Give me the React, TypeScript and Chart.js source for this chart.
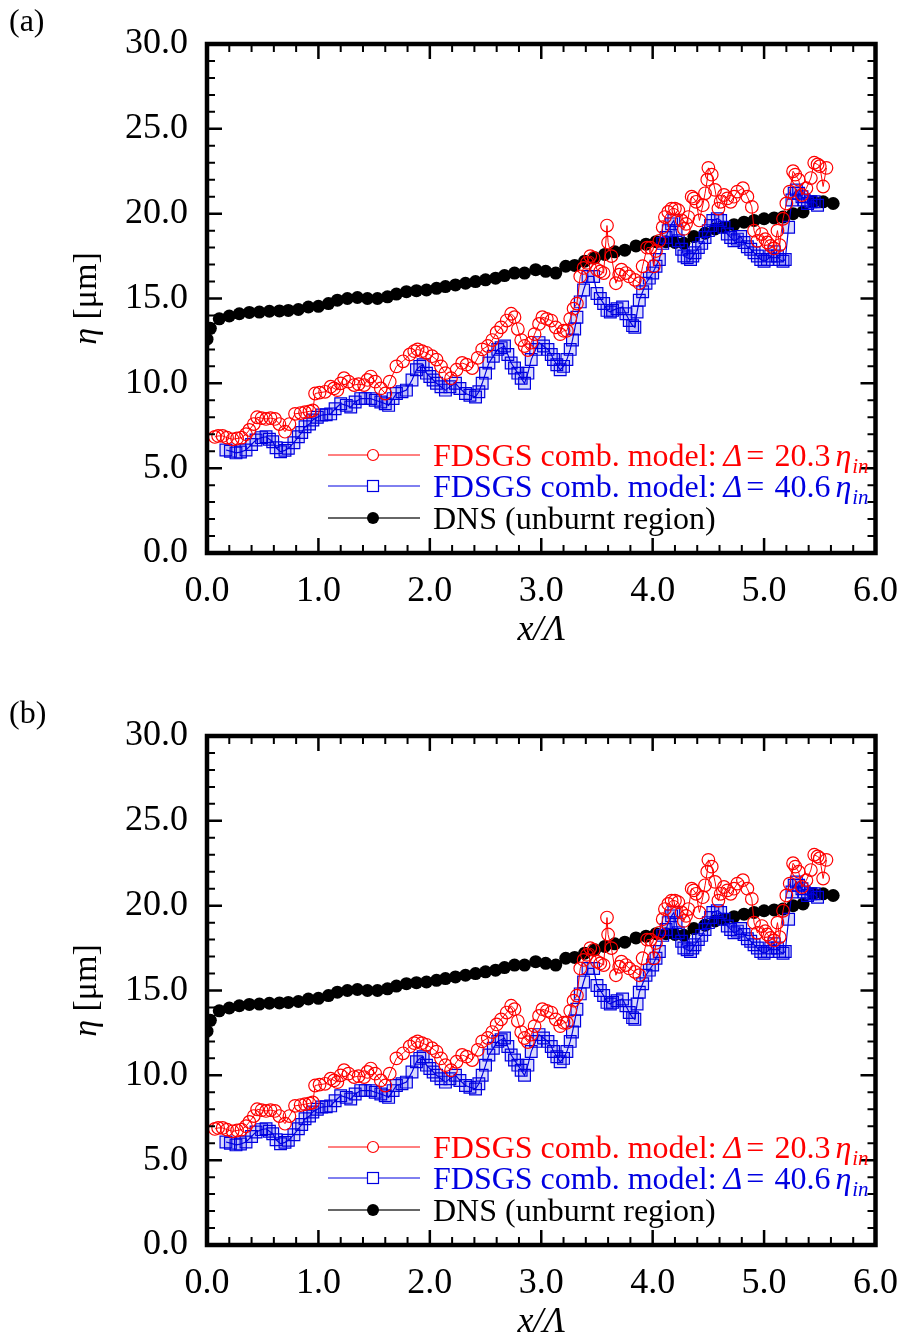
import React, { useEffect, useRef } from 'react';
import { Chart, registerables } from 'chart.js';
Chart.register(...registerables);

// ---------- data ----------
const xTicks = [0, 1, 2, 3, 4, 5, 6];
const yTicks = [0, 5, 10, 15, 20, 25, 30];

const redX = [0.07, 0.10, 0.14, 0.18, 0.23, 0.27, 0.31, 0.35, 0.38, 0.42, 0.45, 0.49, 0.53, 0.57, 0.61, 0.65, 0.70, 0.74, 0.79, 0.84, 0.88, 0.92, 0.95, 0.97, 1.01, 1.06, 1.11, 1.14, 1.17, 1.20, 1.23, 1.27, 1.32, 1.36, 1.41, 1.44, 1.47, 1.51, 1.56, 1.60, 1.64, 1.70, 1.76, 1.82, 1.86, 1.89, 1.93, 1.97, 2.02, 2.06, 2.10, 2.14, 2.19, 2.24, 2.29, 2.33, 2.38, 2.43, 2.47, 2.52, 2.56, 2.60, 2.64, 2.69, 2.73, 2.76, 2.79, 2.82, 2.85, 2.88, 2.91, 2.94, 2.98, 3.01, 3.05, 3.09, 3.13, 3.17, 3.20, 3.23, 3.26, 3.29, 3.32, 3.35, 3.38, 3.41, 3.44, 3.47, 3.50, 3.53, 3.56, 3.59, 3.60, 3.63, 3.67, 3.70, 3.72, 3.76, 3.79, 3.84, 3.88, 3.91, 3.95, 3.98, 4.01, 4.03, 4.06, 4.09, 4.11, 4.14, 4.17, 4.20, 4.23, 4.26, 4.28, 4.30, 4.32, 4.35, 4.37, 4.39, 4.42, 4.45, 4.47, 4.49, 4.50, 4.53, 4.56, 4.59, 4.61, 4.64, 4.67, 4.70, 4.73, 4.76, 4.81, 4.85, 4.89, 4.91, 4.94, 4.98, 5.01, 5.03, 5.06, 5.09, 5.12, 5.14, 5.17, 5.20, 5.23, 5.26, 5.28, 5.31, 5.34, 5.38, 5.42, 5.45, 5.48, 5.50, 5.53, 5.56];
const redY = [6.84, 6.9, 6.9, 6.8, 6.7, 6.75, 6.8, 7.0, 7.25, 7.6, 8.0, 7.95, 7.9, 7.95, 7.9, 7.6, 7.15, 7.6, 8.2, 8.25, 8.3, 8.35, 8.4, 9.4, 9.45, 9.5, 9.8, 9.7, 9.6, 10.0, 10.3, 10.1, 9.9, 9.95, 9.9, 10.2, 10.4, 10.1, 9.7, 9.4, 10.1, 11.0, 11.3, 11.7, 11.9, 12.0, 11.9, 11.8, 11.6, 11.4, 11.0, 10.6, 10.3, 10.8, 11.2, 11.1, 10.9, 11.5, 12.0, 12.2, 12.55, 13.0, 13.3, 13.7, 14.1, 13.9, 13.2, 12.55, 12.2, 11.96, 12.4, 12.9, 13.5, 13.9, 13.8, 13.7, 13.3, 12.9, 13.1, 13.1, 13.8, 14.4, 14.7, 16.3, 16.8, 17.1, 17.5, 17.4, 16.7, 16.6, 16.5, 19.3, 18.3, 17.5, 15.9, 16.4, 16.7, 16.5, 16.3, 16.1, 15.9, 16.9, 18.0, 18.0, 16.9, 17.8, 18.4, 19.2, 19.8, 20.1, 20.3, 20.3, 20.2, 19.6, 19.1, 19.4, 19.8, 21.0, 20.9, 20.7, 19.6, 20.5, 21.2, 22.0, 22.7, 22.3, 21.4, 20.3, 20.7, 21.1, 20.9, 20.7, 21.0, 21.3, 21.5, 21.0, 20.4, 19.0, 18.4, 18.8, 18.5, 18.3, 18.1, 17.95, 19.0, 18.15, 19.7, 20.6, 21.3, 22.5, 22.3, 22.0, 21.1, 21.5, 22.1, 23.0, 22.9, 22.8, 21.6, 22.7];

const blueX = [0.17, 0.21, 0.26, 0.30, 0.35, 0.40, 0.44, 0.49, 0.53, 0.56, 0.59, 0.62, 0.66, 0.70, 0.73, 0.78, 0.82, 0.85, 0.88, 0.92, 0.95, 0.99, 1.03, 1.07, 1.11, 1.15, 1.20, 1.25, 1.29, 1.33, 1.38, 1.42, 1.47, 1.51, 1.56, 1.60, 1.63, 1.67, 1.70, 1.75, 1.79, 1.84, 1.88, 1.91, 1.94, 1.97, 2.00, 2.03, 2.06, 2.10, 2.14, 2.18, 2.23, 2.27, 2.32, 2.36, 2.41, 2.44, 2.47, 2.50, 2.53, 2.57, 2.61, 2.64, 2.67, 2.70, 2.73, 2.76, 2.79, 2.82, 2.85, 2.88, 2.91, 2.95, 2.98, 3.02, 3.06, 3.09, 3.11, 3.14, 3.17, 3.20, 3.23, 3.26, 3.28, 3.30, 3.32, 3.35, 3.38, 3.42, 3.47, 3.50, 3.53, 3.56, 3.59, 3.62, 3.64, 3.68, 3.73, 3.76, 3.79, 3.82, 3.84, 3.86, 3.88, 3.91, 3.94, 3.97, 4.00, 4.03, 4.06, 4.09, 4.12, 4.14, 4.17, 4.19, 4.21, 4.23, 4.26, 4.28, 4.31, 4.34, 4.36, 4.38, 4.41, 4.44, 4.47, 4.50, 4.52, 4.54, 4.58, 4.61, 4.64, 4.67, 4.70, 4.73, 4.76, 4.79, 4.82, 4.85, 4.88, 4.91, 4.94, 4.97, 5.00, 5.03, 5.06, 5.09, 5.12, 5.14, 5.17, 5.19, 5.22, 5.25, 5.27, 5.29, 5.31, 5.34, 5.36, 5.39, 5.42, 5.45, 5.48];
const blueY = [6.07, 6.0, 5.9, 5.95, 6.07, 6.4, 6.66, 6.8, 6.85, 6.7, 6.56, 6.2, 5.97, 6.05, 6.17, 6.5, 6.85, 7.1, 7.44, 7.6, 7.84, 8.0, 8.13, 8.15, 8.2, 8.5, 8.8, 8.7, 8.6, 8.9, 9.1, 9.1, 9.1, 9.0, 8.9, 8.8, 8.7, 9.1, 9.4, 9.5, 9.6, 10.2, 10.8, 11.0, 11.1, 10.6, 10.4, 10.2, 10.0, 9.8, 9.6, 9.8, 10.0, 9.7, 9.4, 9.3, 9.2, 9.5, 10.0, 10.6, 11.2, 11.6, 12.0, 12.1, 12.2, 11.7, 11.2, 10.9, 10.6, 10.3, 10.0, 10.6, 11.4, 12.0, 12.4, 12.2, 12.0, 11.7, 11.4, 11.1, 10.8, 11.0, 11.4, 12.0, 12.55, 13.2, 13.9, 14.8, 15.5, 16.3, 16.3, 15.3, 15.0, 14.7, 14.3, 14.2, 14.3, 14.4, 14.5, 14.1, 13.7, 13.4, 13.3, 14.2, 14.9, 15.4, 15.9, 16.2, 16.5, 16.9, 17.3, 18.25, 18.6, 19.0, 19.4, 19.6, 19.0, 18.4, 17.9, 17.5, 17.4, 17.3, 17.5, 17.7, 18.0, 18.25, 18.6, 19.0, 19.3, 19.6, 19.7, 19.6, 19.2, 18.8, 18.6, 18.4, 18.5, 18.65, 18.3, 18.05, 17.9, 17.7, 17.5, 17.3, 17.2, 17.3, 17.5, 17.75, 17.5, 17.3, 17.2, 17.3, 19.2, 20.8, 21.2, 21.4, 21.2, 21.0, 20.8, 20.6, 20.7, 20.7, 20.5];

const dnsX = [0.00, 0.03, 0.11, 0.20, 0.29, 0.38, 0.47, 0.56, 0.65, 0.73, 0.82, 0.91, 1.00, 1.09, 1.17, 1.26, 1.35, 1.44, 1.53, 1.62, 1.70, 1.79, 1.88, 1.97, 2.06, 2.14, 2.23, 2.32, 2.41, 2.50, 2.59, 2.67, 2.76, 2.85, 2.95, 3.04, 3.13, 3.22, 3.30, 3.39, 3.48, 3.57, 3.66, 3.75, 3.85, 3.94, 4.03, 4.12, 4.20, 4.28, 4.37, 4.47, 4.56, 4.64, 4.73, 4.82, 4.91, 5.00, 5.09, 5.17, 5.26, 5.35, 5.44, 5.53, 5.62];
const dnsY = [12.6, 13.24, 13.8, 13.97, 14.1, 14.18, 14.2, 14.25, 14.27, 14.3, 14.35, 14.5, 14.54, 14.7, 14.9, 15.0, 15.06, 15.0, 15.0, 15.1, 15.26, 15.4, 15.46, 15.5, 15.6, 15.7, 15.8, 15.9, 16.0, 16.1, 16.2, 16.35, 16.5, 16.5, 16.7, 16.6, 16.5, 16.9, 16.95, 17.2, 17.4, 17.6, 17.75, 17.85, 18.1, 18.2, 18.35, 18.35, 18.3, 18.25, 18.65, 18.85, 19.1, 19.2, 19.35, 19.5, 19.6, 19.7, 19.75, 19.8, 20.0, 20.1, 20.7, 20.7, 20.6];

const legendRed = ['FDSGS comb. model:', 'Δ', '=', '20.3', 'η', 'in'];
const legendBlue = ['FDSGS comb. model:', 'Δ', '=', '40.6', 'η', 'in'];
const legendDns = 'DNS (unburnt region)';
const panelLabels = ['(a)', '(b)'];

// ---------- styling ----------
const RED = 'rgb(255,0,0)';
const BLUE = 'rgb(0,0,225)';
const SERIF = '"Liberation Serif", "Times New Roman", serif';
const CW = 915;
const CH = 647;
const LEFT = 207;
const RIGHT = 889;
const TOP = 44;
const BOTTOM = 553;

const toXY = (xs: number[], ys: number[]) => xs.map((x, i) => ({ x, y: ys[i] }));

type Seg = { t?: string; f?: string; dy?: number; gap?: number };
function drawSegs(ctx: CanvasRenderingContext2D, segs: Seg[], x: number, y: number) {
  let cx = x;
  for (const s of segs) {
    if (s.gap) cx += s.gap;
    if (s.t) {
      ctx.font = s.f as string;
      ctx.fillText(s.t, cx, y + (s.dy || 0));
      cx += ctx.measureText(s.t).width;
    }
  }
  return cx - x;
}
function segWidth(ctx: CanvasRenderingContext2D, segs: Seg[]) {
  let w = 0;
  for (const s of segs) {
    if (s.gap) w += s.gap;
    if (s.t) {
      ctx.font = s.f as string;
      w += ctx.measureText(s.t).width;
    }
  }
  return w;
}

const UP = `32px ${SERIF}`;
const IT = `italic 32px ${SERIF}`;
const SUB = `italic 21px ${SERIF}`;

function modelSegs(parts: string[]): Seg[] {
  return [
    { t: parts[0], f: UP },
    { gap: 7, t: parts[1], f: IT },
    { gap: 4, t: parts[2], f: UP },
    { gap: 10, t: parts[3], f: UP },
    { gap: 5, t: parts[4], f: IT },
    { gap: 1, t: parts[5], f: SUB, dy: 7 },
  ];
}

const framePlugin = {
  id: 'frame',
  afterDraw(chart: any, _args: any, opts: any) {
    const ctx: CanvasRenderingContext2D = chart.ctx;
    const a = chart.chartArea;
    const xs = chart.scales.x;
    const ys = chart.scales.y;
    ctx.save();
    ctx.strokeStyle = '#000';
    ctx.lineCap = 'butt';
    // x ticks (bottom & top)
    for (let i = 0; i < xTicks.length; i++) {
      const v = xTicks[i];
      const p = xs.getPixelForValue(v);
      ctx.lineWidth = 2.5;
      ctx.beginPath();
      ctx.moveTo(p, a.bottom); ctx.lineTo(p, a.bottom - 15);
      ctx.moveTo(p, a.top); ctx.lineTo(p, a.top + 15);
      ctx.stroke();
      if (i < xTicks.length - 1) {
        const step = (xTicks[i + 1] - v) / 5;
        ctx.lineWidth = 2;
        ctx.beginPath();
        for (let k = 1; k < 5; k++) {
          const q = xs.getPixelForValue(v + k * step);
          ctx.moveTo(q, a.bottom); ctx.lineTo(q, a.bottom - 8);
          ctx.moveTo(q, a.top); ctx.lineTo(q, a.top + 8);
        }
        ctx.stroke();
      }
    }
    // y ticks (left & right)
    for (let i = 0; i < yTicks.length; i++) {
      const v = yTicks[i];
      const p = ys.getPixelForValue(v);
      ctx.lineWidth = 2.5;
      ctx.beginPath();
      ctx.moveTo(a.left, p); ctx.lineTo(a.left + 15, p);
      ctx.moveTo(a.right, p); ctx.lineTo(a.right - 15, p);
      ctx.stroke();
      if (i < yTicks.length - 1) {
        const step = (yTicks[i + 1] - v) / 5;
        ctx.lineWidth = 2;
        ctx.beginPath();
        for (let k = 1; k < 5; k++) {
          const q = ys.getPixelForValue(v + k * step);
          ctx.moveTo(a.left, q); ctx.lineTo(a.left + 8, q);
          ctx.moveTo(a.right, q); ctx.lineTo(a.right - 8, q);
        }
        ctx.stroke();
      }
    }
    // frame
    ctx.lineWidth = 4.5;
    ctx.strokeRect(a.left, a.top, a.right - a.left, a.bottom - a.top);

    // panel label
    ctx.fillStyle = '#000';
    ctx.textBaseline = 'alphabetic';
    ctx.textAlign = 'left';
    ctx.font = `32px ${SERIF}`;
    ctx.fillText(opts.label, 9, 31);

    // x title
    const xt: Seg[] = [{ t: 'x', f: `italic 36px ${SERIF}` }, { t: '/', f: `italic 36px ${SERIF}` }, { t: 'Λ', f: `italic 36px ${SERIF}` }];
    const xw = segWidth(ctx, xt);
    drawSegs(ctx, xt, (a.left + a.right) / 2 - xw / 2, 640);

    // y title (rotated)
    const yt: Seg[] = [{ t: 'η', f: `italic 34px ${SERIF}` }, { t: ' [μm]', f: `34px ${SERIF}` }];
    const yw = segWidth(ctx, yt);
    ctx.save();
    ctx.translate(96, (a.top + a.bottom) / 2);
    ctx.rotate(-Math.PI / 2);
    drawSegs(ctx, yt, -yw / 2, 0);
    ctx.restore();

    // legend
    const rows = [
      { y: a.top + 411, color: RED, line: RED, lw: 1 },
      { y: a.top + 442, color: BLUE, line: BLUE, lw: 1 },
      { y: a.top + 474, color: '#000', line: '#666', lw: 2 },
    ];
    const x0 = 328, x1 = 420, xm = 373, tx = 433;
    rows.forEach((r, i) => {
      ctx.strokeStyle = r.line;
      ctx.lineWidth = r.lw;
      ctx.beginPath();
      ctx.moveTo(x0, r.y); ctx.lineTo(x1, r.y);
      ctx.stroke();
      ctx.lineWidth = 1.2;
      if (i === 0) {
        ctx.fillStyle = '#fff';
        ctx.strokeStyle = RED;
        ctx.beginPath(); ctx.arc(xm, r.y, 5.5, 0, Math.PI * 2); ctx.fill(); ctx.stroke();
      } else if (i === 1) {
        ctx.fillStyle = '#fff';
        ctx.strokeStyle = BLUE;
        ctx.fillRect(xm - 5.5, r.y - 5.5, 11, 11);
        ctx.strokeRect(xm - 5.5, r.y - 5.5, 11, 11);
      } else {
        ctx.fillStyle = '#000';
        ctx.beginPath(); ctx.arc(xm, r.y, 6, 0, Math.PI * 2); ctx.fill();
      }
      ctx.fillStyle = r.color;
      const base = r.y + 11;
      if (i === 0) drawSegs(ctx, modelSegs(legendRed), tx, base);
      else if (i === 1) drawSegs(ctx, modelSegs(legendBlue), tx, base);
      else drawSegs(ctx, [{ t: legendDns, f: UP }], tx, base);
    });
    ctx.restore();
  },
};

function makeConfig(label: string): any {
  const tickFont = { family: SERIF, size: 36 };
  return {
    type: 'line',
    data: {
      datasets: [
        {
          label: 'red',
          data: toXY(redX, redY),
          borderColor: RED,
          borderWidth: 1,
          pointStyle: 'circle',
          pointRadius: 6.3,
          pointBorderWidth: 1.2,
          pointBorderColor: RED,
          pointBackgroundColor: 'rgba(255,255,255,0)',
          tension: 0,
          fill: false,
        },
        {
          label: 'blue',
          data: toXY(blueX, blueY),
          borderColor: BLUE,
          borderWidth: 1.2,
          pointStyle: 'rect',
          pointRadius: 8.3,
          pointBorderWidth: 1.2,
          pointBorderColor: BLUE,
          pointBackgroundColor: 'rgba(0,0,225,0.14)',
          tension: 0,
          fill: false,
        },
        {
          label: 'dns',
          data: toXY(dnsX, dnsY),
          borderColor: '#000',
          borderWidth: 1.5,
          pointStyle: 'circle',
          pointRadius: 6.5,
          pointBorderWidth: 0,
          pointBackgroundColor: '#000',
          tension: 0,
          fill: false,
        },
      ],
    },
    options: {
      animation: false,
      responsive: false,
      devicePixelRatio: 1,
      layout: { padding: { left: 0, right: CW - RIGHT, top: TOP, bottom: 0 } },
      plugins: { legend: { display: false }, tooltip: { enabled: false }, frame: { label } },
      scales: {
        x: {
          type: 'linear',
          min: 0,
          max: 6,
          afterBuildTicks: (s: any) => { s.ticks = xTicks.map((v) => ({ value: v })); },
          afterFit: (s: any) => { s.height = CH - BOTTOM; },
          grid: { display: false, drawTicks: false },
          border: { display: false },
          ticks: {
            font: tickFont, color: '#000', padding: 17, maxRotation: 0, minRotation: 0, autoSkip: false,
            callback: (v: any) => Number(v).toFixed(1),
          },
        },
        y: {
          type: 'linear',
          min: 0,
          max: 30,
          afterBuildTicks: (s: any) => { s.ticks = yTicks.map((v) => ({ value: v })); },
          afterFit: (s: any) => { s.width = LEFT; },
          grid: { display: false, drawTicks: false },
          border: { display: false },
          ticks: {
            font: tickFont, color: '#000', padding: 19, autoSkip: false,
            callback: (v: any) => Number(v).toFixed(1),
          },
        },
      },
    },
    plugins: [framePlugin],
  };
}

function Panel({ label, top }: { label: string; top: number }) {
  const ref = useRef<HTMLCanvasElement>(null);
  useEffect(() => {
    const chart = new Chart(ref.current as HTMLCanvasElement, makeConfig(label));
    return () => chart.destroy();
  }, [label]);
  return (
    <canvas
      ref={ref}
      width={CW}
      height={CH}
      style={{ position: 'absolute', left: 0, top, width: CW, height: CH }}
    />
  );
}

export default function App() {
  return (
    <div style={{ position: 'absolute', left: 0, top: 0, width: CW, height: 1339, overflow: 'hidden', background: '#fff' }}>
      <Panel label={panelLabels[0]} top={0} />
      <Panel label={panelLabels[1]} top={692} />
    </div>
  );
}
